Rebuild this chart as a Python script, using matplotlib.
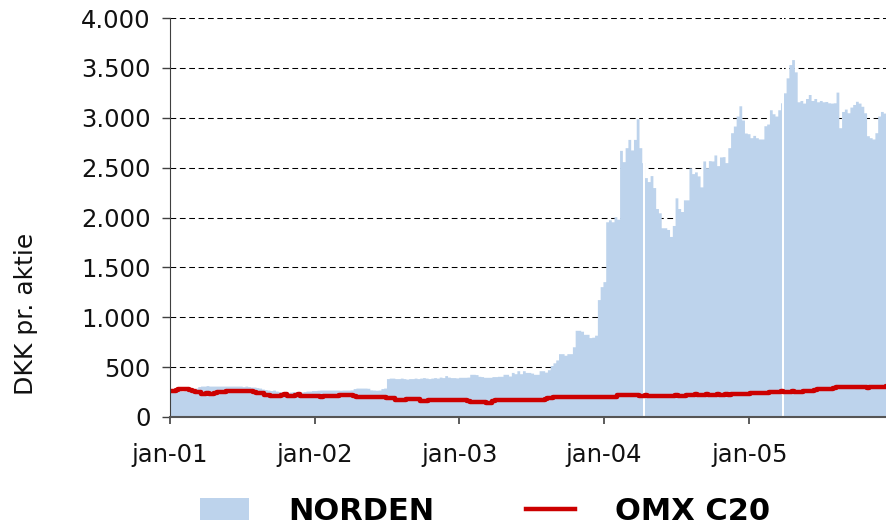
import matplotlib
matplotlib.use('Agg')
import matplotlib.pyplot as plt
from matplotlib.patches import Patch
from matplotlib.lines import Line2D
from matplotlib.ticker import FuncFormatter, MultipleLocator
import matplotlib.dates as mdates
import numpy as np
import pandas as pd

# ugentlige kurser (DKK pr. aktie), aflaest fra grafen
start_date = '2001-01-01'

norden_2001 = [265, 270, 270, 265, 260, 265, 270, 275, 280, 290,
               305, 310, 310, 315, 310, 310, 310, 310, 310, 310, 310, 310,
               310, 310, 310, 310, 305, 310, 305, 300, 300, 295,
               290, 280, 275, 270, 265, 270,
               260, 255, 250, 250, 245, 250, 255, 250, 250, 250, 255, 260, 260, 265]
norden_2002 = [265, 268, 270, 270, 270, 270, 270, 270, 270, 268, 270, 270, 270, 272,
               285, 290, 290, 290, 290, 288,
               272, 270, 268, 270,
               285, 290,
               385, 390, 390, 385, 385, 390, 385, 380, 385, 385, 390, 385, 390,
               395, 390, 385, 390, 395, 390, 400, 395, 415, 400, 395, 395, 392]
norden_2003 = [398, 398, 398, 400, 428, 428, 425, 408, 405, 398, 398, 398, 405, 405,
               408, 408, 428, 428, 411, 447, 434, 464, 434, 464, 447, 447, 440,
               428, 428, 464, 464, 450, 474, 516, 543, 572, 635, 635, 619, 635, 635,
               704, 869, 869, 860, 829, 829, 796, 800, 820, 1177, 1307]
norden_2004 = [1357, 1957, 1977, 1957, 2007, 1983, 2673, 2560, 2700, 2783, 2677, 2783,
               2990, 2700, 2550, 2400, 2360, 2420, 2300, 2090, 2047, 1897, 1897, 1880,
               1810, 1920, 2197, 2090, 2060, 2177, 2177, 2497, 2440, 2457, 2417, 2307,
               2567, 2500, 2570, 2567, 2627, 2520, 2607, 2610, 2550, 2700, 2850, 2917,
               3017, 3120, 2977, 2847]
norden_2005 = [2840, 2800, 2823, 2800, 2787, 2787, 2920, 2937, 3080, 3040, 3017, 3080,
               3150, 3250, 3400, 3533, 3583, 3460, 3160, 3173, 3147, 3193, 3233, 3173,
               3193, 3160, 3173, 3160, 3163, 3150, 3147, 3150, 3257, 2900, 3063, 3087,
               3050, 3107, 3133, 3165, 3147, 3115, 3050, 2820, 2800, 2787, 2850, 3017,
               3063, 3047, 3047]

omx_2001 = [262, 265, 270, 277, 278, 276, 277, 275, 262, 252, 250,
            235, 233, 236, 233, 232, 245, 248, 246, 247,
            262, 263, 265, 262, 263, 264, 262, 260, 257, 256, 255,
            245, 243, 240, 225, 218, 215,
            213, 215, 212, 222, 226, 214, 212, 213, 218, 227, 214, 213, 212, 215, 210]
omx_2002 = [210, 207, 205, 207, 208, 206, 207, 209, 207,
            217, 218, 216, 217, 217, 215,
            202, 200, 200, 201, 200, 199, 200, 198, 200, 200, 198,
            193, 192, 190, 175, 173, 172, 174, 180, 184, 176, 183, 182,
            162, 160, 161, 167, 167, 166, 167, 167, 168, 167, 166, 167, 167, 166]
omx_2003 = [166, 167, 166, 165, 152, 150, 151, 150, 149, 148, 145, 140,
            160, 168, 170, 170, 170, 171, 170, 170, 169, 170, 170, 170, 170, 170,
            170, 171, 170, 170, 172, 185, 192, 195,
            200, 201, 200, 199, 200, 200, 201, 202, 200, 200, 201, 200, 200, 199,
            200, 201, 203, 205]
omx_2004 = [200, 201, 202, 203, 205, 220, 222, 223, 222, 224, 223, 222, 220,
            212, 210, 216, 215, 214, 215, 215, 214, 215, 215, 215, 214, 215,
            218, 212, 210, 214, 222,
            225, 225, 226, 225, 225, 225, 226, 225, 225, 225, 226, 225, 225, 226,
            225, 226, 227, 228, 228, 230, 232]
omx_2005 = [235, 236, 237, 238, 238, 237, 238, 240,
            250, 253, 255, 255, 256, 255, 254, 255, 256, 255, 250, 248, 256, 257, 258, 258,
            275, 277, 278, 278, 278, 279, 280,
            295, 297, 298, 298, 299, 300, 300, 300, 300, 300, 300, 299, 290, 300,
            301, 301, 302, 303, 305, 310]

# paaskehelligdage uden notering (hvide streger)
gaps = [('2004-04-09', '2004-04-13'), ('2005-03-25', '2005-03-29')]

year_ticks = ['2001-01-01', '2002-01-01', '2003-01-01', '2004-01-01', '2005-01-01']
x_end = '2005-12-12'

norden = norden_2001 + norden_2002 + norden_2003 + norden_2004 + norden_2005
omx = omx_2001 + omx_2002 + omx_2003 + omx_2004 + omx_2005
dates = pd.date_range(start_date, periods=len(norden) + 1, freq='7D')

blue = '#BDD3EC'
red = '#CC0000'

fig = plt.figure(figsize=(8.86, 5.28), dpi=100)
ax = fig.add_axes([170 / 886, 111 / 528, 716 / 886, 399 / 528])

ax.fill_between(dates, norden + [norden[-1]], step='post', color=blue, lw=0, zorder=2)
for a, b in gaps:
    ax.axvspan(pd.Timestamp(a), pd.Timestamp(b), color='white', lw=0, zorder=3)
ax.plot(dates, omx + [omx[-1]], drawstyle='steps-post', color=red, lw=3.2,
        solid_joinstyle='round', zorder=4)

ax.set_xlim(pd.Timestamp(start_date), pd.Timestamp(x_end))
ax.set_ylim(0, 4000)
ax.yaxis.set_major_locator(MultipleLocator(500))
ax.yaxis.set_major_formatter(FuncFormatter(lambda v, p: f'{int(v):,}'.replace(',', '.')))
ax.set_xticks([pd.Timestamp(d) for d in year_ticks])
ax.xaxis.set_major_formatter(FuncFormatter(lambda v, p: 'jan-' + mdates.num2date(v).strftime('%y')))

ax.set_axisbelow(True)
ax.yaxis.grid(True, color='black', lw=0.75, linestyle=(0, (5.5, 3.5)))
for s in ['top', 'right']:
    ax.spines[s].set_visible(False)
ax.spines['left'].set_color('#404040')
ax.spines['bottom'].set_color('#555555')
ax.spines['bottom'].set_linewidth(1.5)
ax.spines['left'].set_zorder(5)
ax.spines['bottom'].set_zorder(5)

ax.tick_params(axis='y', direction='out', length=6, width=1, pad=8,
               labelsize=17.5, colors='#404040', labelcolor='#111111')
ax.tick_params(axis='x', direction='out', length=5, width=1.2, pad=14,
               labelsize=17.5, colors='#404040', labelcolor='#111111')

fig.text(26 / 886, 1 - 314 / 528, 'DKK pr. aktie', rotation=90, ha='center', va='center',
         fontsize=18, color='#111111')

handles = [Patch(facecolor=blue, edgecolor='none'),
           Line2D([], [], color=red, lw=3.2)]
fig.legend(handles, ['NORDEN', 'OMX C20'], loc='center left',
           bbox_to_anchor=(200 / 886, 1 - 511 / 528), ncol=2, frameon=False,
           prop={'weight': 'bold', 'size': 22}, handlelength=1.6,
           handletextpad=1.3, columnspacing=3.0, borderpad=0, borderaxespad=0)

plt.savefig('out.png', dpi=100)
plt.close()
